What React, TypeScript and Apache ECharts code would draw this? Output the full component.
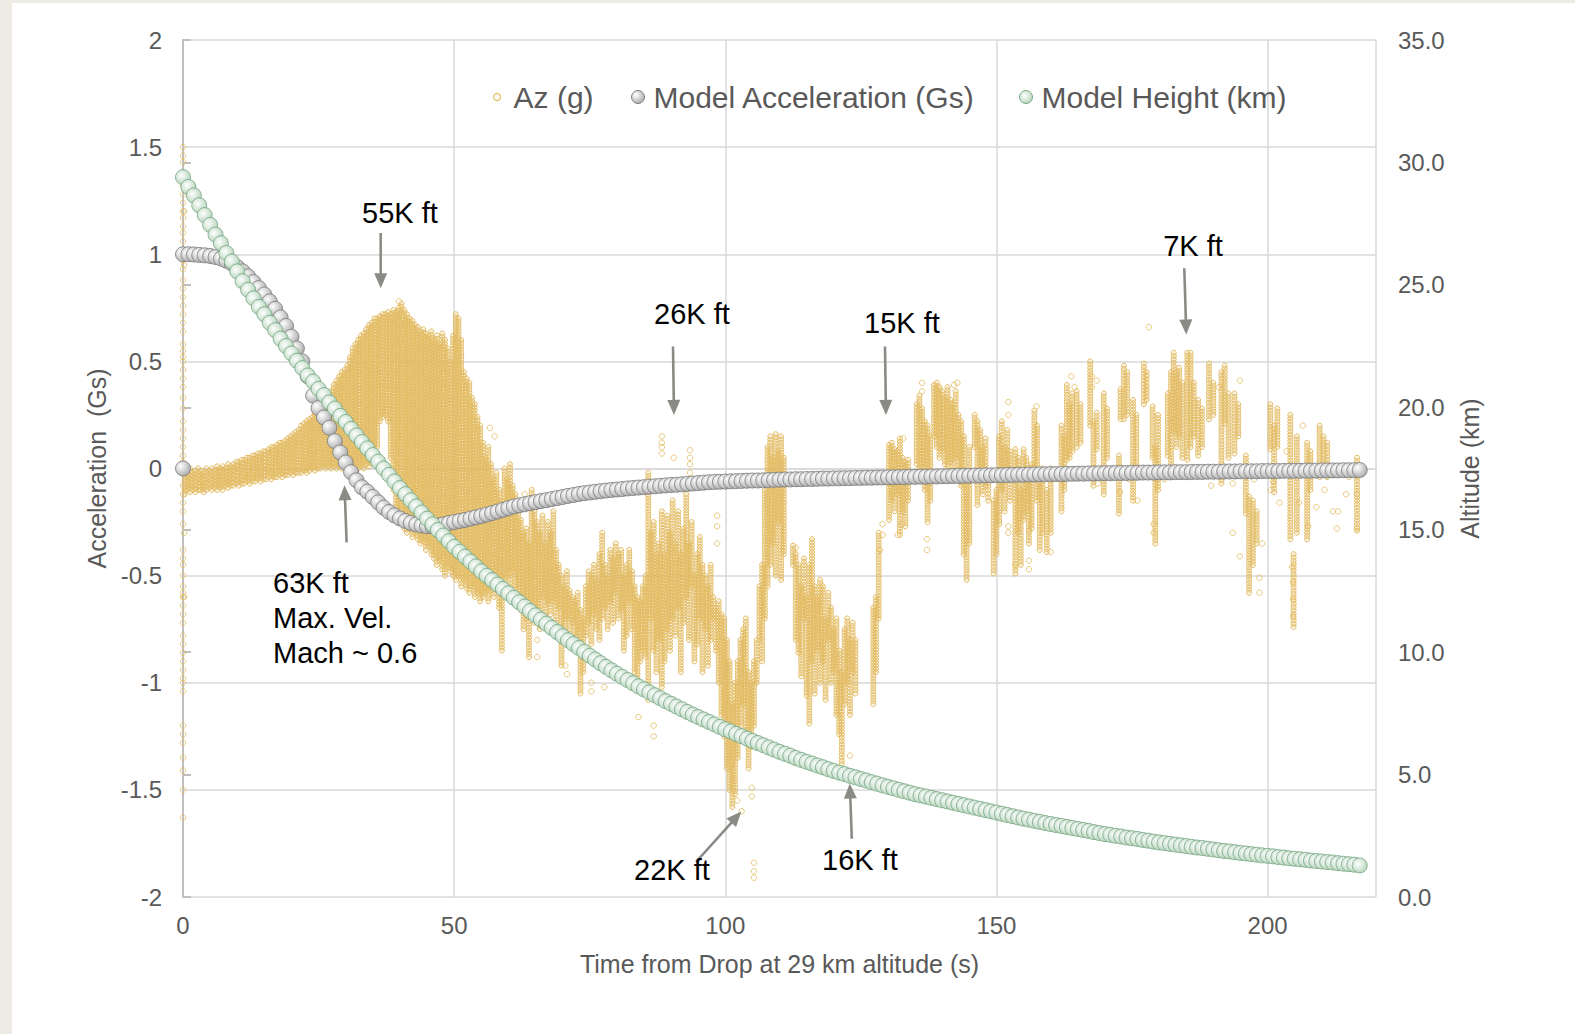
import React, { useEffect, useRef } from "react";
import * as echarts from "echarts";

const FONT = "'Liberation Sans', Arial, sans-serif";
const AZ_COLOR = "#E3BB5F";
const AZ_FILL = "rgba(232,194,106,0.14)";
const ARROW_COLOR = "#8A8B85";

// ---- axes ----
const timeMin = 0;
const timeMax = 220;
const timeInterval = 50;
const accelMin = -2;
const accelMax = 2;
const accelInterval = 0.5;
const altMin = 0;
const altMax = 35;
const altInterval = 5;

// ---- model acceleration (Gs), one value per second from t = 0 s ----
const modelAccelStart = [0, 0];
const modelAccel = [
  1.0, 1.0, 0.999, 0.997, 0.995, 0.992, 0.987, 0.98, 0.97, 0.957,
  0.94, 0.92, 0.897, 0.87, 0.842, 0.812, 0.78, 0.745, 0.705, 0.665,
  0.615, 0.56, 0.5, 0.43, 0.34, 0.282, 0.238, 0.19, 0.128, 0.075,
  0.028, -0.017, -0.055, -0.088, -0.108, -0.133, -0.158, -0.183, -0.203, -0.219,
  -0.233, -0.245, -0.254, -0.261, -0.266, -0.269, -0.269, -0.266, -0.261, -0.255,
  -0.25, -0.245, -0.24, -0.234, -0.228, -0.222, -0.215, -0.208, -0.201, -0.193,
  -0.185, -0.177, -0.172, -0.167, -0.162, -0.157, -0.152, -0.148, -0.143, -0.138,
  -0.133, -0.128, -0.124, -0.119, -0.115, -0.112, -0.109, -0.106, -0.103, -0.1,
  -0.098, -0.096, -0.093, -0.091, -0.089, -0.087, -0.085, -0.083, -0.081, -0.079,
  -0.077, -0.076, -0.074, -0.072, -0.07, -0.068, -0.066, -0.064, -0.063, -0.062,
  -0.061, -0.06, -0.059, -0.058, -0.057, -0.056, -0.056, -0.055, -0.054, -0.053,
  -0.052, -0.051, -0.051, -0.05, -0.05, -0.049, -0.049, -0.048, -0.047, -0.047,
  -0.046, -0.046, -0.045, -0.045, -0.044, -0.044, -0.043, -0.043, -0.042, -0.042,
  -0.041, -0.041, -0.04, -0.04, -0.039, -0.039, -0.038, -0.038, -0.037, -0.037,
  -0.036, -0.036, -0.035, -0.035, -0.034, -0.034, -0.033, -0.033, -0.032, -0.032,
  -0.031, -0.031, -0.03, -0.03, -0.029, -0.029, -0.028, -0.028, -0.027, -0.027,
  -0.026, -0.026, -0.026, -0.025, -0.025, -0.024, -0.024, -0.023, -0.023, -0.022,
  -0.022, -0.022, -0.021, -0.021, -0.021, -0.02, -0.02, -0.019, -0.019, -0.019,
  -0.018, -0.018, -0.018, -0.017, -0.017, -0.017, -0.016, -0.016, -0.016, -0.015,
  -0.015, -0.015, -0.014, -0.014, -0.014, -0.013, -0.013, -0.013, -0.013, -0.012,
  -0.012, -0.012, -0.012, -0.011, -0.011, -0.011, -0.011, -0.01, -0.01, -0.01,
  -0.009, -0.009, -0.009, -0.009, -0.008, -0.008, -0.008, -0.007,
];

// ---- model height (km), one value per second from t = 0 s ----
const modelHeight = [
  29.4, 29.0, 28.65, 28.25, 27.85, 27.45, 27.05, 26.7, 26.3, 25.95,
  25.55, 25.15, 24.8, 24.45, 24.1, 23.8, 23.45, 23.15, 22.8, 22.5,
  22.2, 21.9, 21.6, 21.3, 21.05, 20.75, 20.5, 20.2, 19.95, 19.65,
  19.4, 19.12, 18.85, 18.58, 18.32, 18.05, 17.78, 17.5, 17.24, 16.97,
  16.7, 16.45, 16.2, 15.95, 15.7, 15.45, 15.22, 14.99, 14.76, 14.53,
  14.3, 14.1, 13.9, 13.7, 13.5, 13.3, 13.12, 12.94, 12.76, 12.58,
  12.4, 12.22, 12.04, 11.86, 11.68, 11.5, 11.33, 11.16, 10.99, 10.82,
  10.65, 10.49, 10.33, 10.17, 10.01, 9.85, 9.7, 9.55, 9.4, 9.26,
  9.12, 8.99, 8.86, 8.73, 8.6, 8.48, 8.36, 8.24, 8.12, 8.0,
  7.89, 7.78, 7.67, 7.56, 7.45, 7.35, 7.25, 7.15, 7.05, 6.95,
  6.85, 6.76, 6.66, 6.57, 6.47, 6.38, 6.29, 6.2, 6.11, 6.02,
  5.93, 5.85, 5.77, 5.68, 5.6, 5.52, 5.45, 5.37, 5.3, 5.22,
  5.15, 5.08, 5.02, 4.95, 4.89, 4.82, 4.76, 4.69, 4.63, 4.56,
  4.5, 4.44, 4.38, 4.32, 4.26, 4.2, 4.15, 4.1, 4.05, 4.0,
  3.95, 3.9, 3.85, 3.8, 3.75, 3.7, 3.65, 3.6, 3.55, 3.5,
  3.45, 3.4, 3.35, 3.3, 3.25, 3.2, 3.16, 3.11, 3.07, 3.02,
  2.98, 2.94, 2.9, 2.86, 2.82, 2.78, 2.74, 2.7, 2.65, 2.61,
  2.57, 2.54, 2.5, 2.47, 2.43, 2.4, 2.37, 2.33, 2.3, 2.26,
  2.23, 2.2, 2.17, 2.14, 2.11, 2.08, 2.05, 2.02, 2.0, 1.97,
  1.94, 1.91, 1.88, 1.86, 1.83, 1.8, 1.78, 1.75, 1.73, 1.7,
  1.68, 1.66, 1.63, 1.61, 1.58, 1.56, 1.54, 1.52, 1.49, 1.47,
  1.45, 1.43, 1.41, 1.38, 1.36, 1.34, 1.32, 1.29,
];

// ---- Az (g) measured: sample columns [time s, lowest g, highest g] ----
const azColumns = [
  [0.3, -0.12, 0.02], [0.8, -0.1, -0.01], [1.3, -0.11, 0.0], [1.8, -0.1, -0.02], [2.3, -0.11, -0.01],
  [2.8, -0.1, 0.0], [3.3, -0.1, -0.01], [3.8, -0.11, -0.02], [4.3, -0.1, 0.0], [4.8, -0.09, -0.01],
  [5.3, -0.1, 0.0], [5.8, -0.09, -0.01], [6.3, -0.1, 0.01], [6.8, -0.09, 0.0], [7.3, -0.1, 0.01],
  [7.8, -0.08, 0.0], [8.3, -0.09, 0.02], [8.8, -0.08, 0.01], [9.3, -0.08, 0.02], [9.8, -0.07, 0.03],
  [10.3, -0.08, 0.03], [10.8, -0.07, 0.04], [11.3, -0.07, 0.04], [11.8, -0.06, 0.05], [12.3, -0.07, 0.05],
  [12.8, -0.06, 0.06], [13.3, -0.06, 0.06], [13.8, -0.05, 0.07], [14.3, -0.06, 0.07], [14.8, -0.05, 0.08],
  [15.3, -0.05, 0.08], [15.8, -0.04, 0.09], [16.3, -0.05, 0.1], [16.8, -0.04, 0.1], [17.3, -0.04, 0.11],
  [17.8, -0.03, 0.12], [18.3, -0.04, 0.12], [18.8, -0.03, 0.13], [19.3, -0.03, 0.14], [19.8, -0.02, 0.15],
  [20.3, -0.03, 0.16], [20.8, -0.02, 0.17], [21.3, -0.02, 0.18], [21.8, -0.02, 0.2], [22.3, -0.01, 0.21],
  [22.8, -0.02, 0.22], [23.3, -0.01, 0.23], [23.8, 0.0, 0.24], [24.3, -0.01, 0.26], [24.8, 0.0, 0.27],
  [25.3, 0.0, 0.28], [25.8, 0.01, 0.3], [26.3, 0.0, 0.31], [26.8, 0.01, 0.33], [27.3, 0.0, 0.36],
  [27.8, 0.01, 0.39], [28.3, 0.0, 0.41], [28.8, 0.01, 0.43], [29.3, 0.0, 0.45], [29.8, 0.01, 0.46],
  [30.3, 0.0, 0.48], [30.8, 0.01, 0.52], [31.3, 0.0, 0.56], [31.8, 0.01, 0.58], [32.3, 0.0, 0.6],
  [32.8, 0.01, 0.62], [33.3, 0.0, 0.63], [33.8, 0.02, 0.65], [34.3, 0.01, 0.67], [34.8, 0.03, 0.68],
  [35.3, 0.02, 0.7], [35.8, 0.1, 0.7], [36.3, 0.22, 0.71], [36.8, 0.24, 0.72], [37.3, 0.25, 0.72],
  [37.8, 0.22, 0.73], [38.3, 0.05, 0.72], [38.8, -0.1, 0.74], [39.3, -0.18, 0.73], [39.8, -0.22, 0.75],
  [40.3, -0.25, 0.77], [40.8, -0.28, 0.74], [41.3, -0.3, 0.72], [41.8, -0.28, 0.7], [42.3, -0.32, 0.69],
  [42.8, -0.3, 0.67], [43.3, -0.33, 0.66], [43.8, -0.35, 0.64], [44.3, -0.34, 0.65], [44.8, -0.38, 0.63],
  [45.3, -0.36, 0.62], [45.8, -0.4, 0.64], [46.3, -0.42, 0.6], [46.8, -0.45, 0.62], [47.3, -0.43, 0.58],
  [47.8, -0.47, 0.63], [48.3, -0.5, 0.6], [48.8, -0.46, 0.56], [49.3, -0.48, 0.5], [49.8, -0.5, 0.62],
  [50.3, -0.52, 0.72], [50.8, -0.5, 0.7], [51.3, -0.55, 0.6], [51.8, -0.52, 0.45], [52.3, -0.56, 0.42],
  [52.8, -0.58, 0.4], [53.3, -0.55, 0.33], [53.8, -0.6, 0.3], [54.3, -0.58, 0.24], [54.8, -0.62, 0.2],
  [55.3, -0.6, 0.12], [55.8, -0.58, 0.05], [56.3, -0.62, 0.1], [56.8, -0.57, 0.02], [57.3, -0.6, -0.05],
  [57.8, -0.55, -0.02], [58.3, -0.65, -0.1], [58.8, -0.85, -0.15],
  [59.3, -0.57, 0.0], [59.8, -0.5, -0.05], [60.3, -0.55, 0.02], [60.8, -0.48, -0.08], [61.3, -0.56, -0.12],
  [61.8, -0.6, -0.2], [62.3, -0.66, -0.24], [62.8, -0.75, -0.3], [63.3, -0.7, -0.28], [63.8, -0.88, -0.35],
  [64.3, -0.62, -0.1], [64.8, -0.72, -0.2], [65.3, -0.66, -0.25], [65.8, -0.75, -0.3], [66.3, -0.6, -0.22],
  [66.8, -0.7, -0.35], [67.3, -0.63, -0.25], [67.8, -0.68, -0.3], [68.3, -0.62, -0.2], [68.8, -0.72, -0.38],
  [69.3, -0.65, -0.45], [69.8, -0.92, -0.5], [70.3, -0.75, -0.55], [70.8, -0.7, -0.48], [71.3, -0.78, -0.57],
  [71.8, -0.72, -0.6], [72.3, -0.8, -0.62], [72.8, -0.78, -0.58], [73.3, -1.05, -0.66], [73.8, -0.95, -0.7],
  [74.3, -0.78, -0.55], [74.8, -0.72, -0.48], [75.3, -0.82, -0.5], [75.8, -0.68, -0.45], [76.3, -0.75, -0.52],
  [76.8, -0.8, -0.4], [77.3, -0.7, -0.3], [77.8, -0.65, -0.45], [78.3, -0.75, -0.5], [78.8, -0.62, -0.38],
  [79.3, -0.72, -0.42], [79.8, -0.58, -0.35], [80.3, -0.7, -0.4], [80.8, -0.66, -0.38], [81.3, -0.85, -0.5],
  [81.8, -0.78, -0.45], [82.3, -0.62, -0.38], [82.8, -0.75, -0.48], [83.3, -0.95, -0.55], [83.8, -1.02, -0.6],
  [84.3, -0.9, -0.62], [84.8, -0.85, -0.55], [85.3, -0.88, -0.5], [85.8, -1.08, -0.02], [86.3, -0.7, -0.3],
  [86.8, -0.85, -0.25], [87.3, -0.95, -0.4], [87.8, -0.8, -0.35], [88.3, -1.02, -0.2], [88.8, -0.9, -0.4],
  [89.3, -0.75, -0.22], [89.8, -0.85, -0.3], [90.3, -0.7, -0.15], [90.8, -0.78, -0.35], [91.3, -0.65, -0.2],
  [91.8, -0.95, -0.4], [92.3, -0.72, -0.28], [92.8, -0.6, -0.12], [93.3, -0.8, -0.35], [93.8, -0.55, -0.25],
  [94.3, -0.9, -0.5], [94.8, -0.82, -0.4], [95.3, -0.7, -0.32], [95.8, -0.95, -0.45], [96.3, -0.75, -0.5],
  [96.8, -0.92, -0.55], [97.3, -0.8, -0.45], [97.8, -0.7, -0.6], [98.3, -0.85, -0.65], [98.8, -1.0, -0.62],
  [99.3, -1.15, -0.68], [99.8, -1.25, -0.7], [100.3, -1.4, -0.8], [100.8, -1.5, -0.9], [101.3, -1.58, -1.1],
  [101.8, -1.52, -1.0], [102.3, -1.35, -0.9], [102.8, -1.2, -0.8], [103.3, -1.1, -0.75], [103.8, -1.25, -0.7],
  [104.3, -1.4, -0.95], [104.8, -1.3, -1.0], [105.3, -1.2, -0.9], [105.8, -1.0, -0.8], [106.3, -0.8, -0.55],
  [106.8, -0.9, -0.45], [107.3, -0.7, -0.1], [107.8, -0.55, 0.1], [108.3, -0.45, 0.15], [108.8, -0.35, 0.05],
  [109.3, -0.5, 0.16], [109.8, -0.25, 0.08], [110.3, -0.52, 0.15], [110.8, -0.4, 0.05],
  [112.5, -0.45, -0.36], [113.0, -0.8, -0.4], [113.5, -0.86, -0.45], [114.0, -0.97, -0.55], [114.5, -0.7, -0.42],
  [115.0, -1.06, -0.6], [115.5, -1.19, -0.45], [116.0, -0.9, -0.33], [116.5, -1.05, -0.55], [117.0, -0.85, -0.6],
  [117.5, -1.0, -0.52], [118.0, -0.9, -0.55], [118.5, -1.08, -0.7], [119.0, -0.8, -0.58], [119.5, -1.0, -0.65],
  [120.0, -0.95, -0.75], [120.5, -1.15, -0.7], [121.0, -1.24, -0.85], [121.5, -1.38, -0.95], [122.0, -1.1, -0.75],
  [122.5, -1.0, -0.7], [123.0, -1.15, -0.8], [123.5, -0.95, -0.72], [124.0, -1.05, -0.8],
  [127.3, -1.1, -0.65], [127.8, -0.95, -0.6], [128.3, -0.7, -0.3],
  [130.2, -0.24, 0.11], [130.7, -0.15, 0.12], [131.2, -0.2, 0.09], [131.7, -0.12, 0.08], [132.2, -0.31, 0.14],
  [132.7, -0.2, 0.05], [133.2, -0.27, 0.03], [133.7, -0.15, 0.04],
  [135.3, 0.02, 0.3], [135.8, -0.05, 0.34], [136.3, 0.01, 0.28], [136.8, -0.1, 0.22], [137.3, -0.25, 0.2],
  [137.8, -0.15, 0.15], [138.5, 0.15, 0.39], [139.0, 0.1, 0.4], [139.5, 0.05, 0.38], [140.0, 0.08, 0.36],
  [140.5, 0.02, 0.33], [141.0, -0.05, 0.38], [141.5, 0.03, 0.32], [142.0, -0.02, 0.3], [142.5, 0.05, 0.36],
  [143.0, 0.0, 0.25], [143.5, -0.08, 0.22], [144.0, -0.4, 0.15], [144.5, -0.52, -0.05], [145.0, -0.35, 0.1],
  [146.0, 0.1, 0.25], [146.5, -0.17, 0.22], [147.0, -0.05, 0.18], [147.5, -0.12, 0.1], [148.0, -0.08, 0.14],
  [148.5, -0.15, -0.02], [149.5, -0.49, -0.15], [150.0, -0.4, -0.1], [150.5, -0.26, 0.15], [151.0, -0.1, 0.22],
  [151.5, -0.2, 0.1], [152.0, -0.05, 0.18], [152.5, -0.15, 0.08], [153.5, -0.49, 0.09], [154.0, -0.3, 0.05],
  [154.5, -0.45, -0.1], [155.0, -0.24, 0.09], [155.5, -0.2, 0.05], [156.0, -0.35, -0.05], [156.5, -0.28, 0.02],
  [157.0, -0.05, 0.27], [157.5, -0.15, 0.2], [158.0, -0.38, -0.07], [158.5, -0.3, 0.0], [159.3, -0.39, -0.1],
  [160.0, -0.3, 0.0], [162.0, -0.2, 0.2], [162.5, -0.1, 0.15], [163.0, 0.04, 0.39], [163.5, 0.05, 0.3],
  [164.0, 0.08, 0.35], [164.8, 0.1, 0.36], [165.5, 0.12, 0.3], [167.3, 0.2, 0.5], [167.9, -0.08, 0.22],
  [168.5, 0.09, 0.26], [169.8, -0.12, 0.35], [170.4, 0.05, 0.28], [172.6, -0.21, 0.06], [172.9, 0.23, 0.37],
  [173.5, 0.23, 0.48], [174.1, 0.25, 0.45], [175.2, -0.15, 0.32], [175.8, 0.0, 0.25], [177.2, 0.3, 0.49],
  [177.7, 0.32, 0.45], [178.8, 0.05, 0.29], [179.3, -0.35, 0.1], [179.8, -0.1, 0.25], [181.6, 0.06, 0.35],
  [182.2, -0.04, 0.45], [182.7, 0.17, 0.54], [183.2, 0.1, 0.45], [183.7, 0.15, 0.47], [184.3, 0.05, 0.4],
  [185.2, 0.04, 0.54], [185.8, 0.1, 0.54], [186.4, 0.15, 0.4], [187.2, 0.06, 0.32], [187.9, 0.1, 0.28],
  [189.2, 0.23, 0.49], [190.0, 0.25, 0.4], [191.5, -0.07, 0.45], [192.1, 0.21, 0.48], [192.8, 0.05, 0.35],
  [193.9, 0.07, 0.35], [194.6, 0.15, 0.3], [196.0, -0.21, 0.06], [196.6, -0.58, -0.13], [197.3, -0.45, -0.15],
  [198.0, -0.35, -0.2], [200.5, 0.09, 0.3], [201.2, -0.11, 0.2], [201.8, 0.1, 0.28], [204.2, -0.33, 0.25],
  [204.8, -0.74, -0.4], [205.4, -0.3, 0.15], [207.3, -0.33, 0.12], [207.9, -0.1, 0.08], [209.6, -0.04, 0.2],
  [210.3, 0.0, 0.15], [211.0, -0.04, 0.12], [216.5, -0.29, 0.05],
];

// ---- Az (g) measured: single samples [time s, g] ----
const azSingles = [
  [0, 1.5], [0, 1.46], [0, 1.43], [0, 1.36], [0, 1.32], [0, 1.28], [0, 1.24], [0, 1.2], [0, 1.17], [0, 1.13],
  [0, 1.1], [0, 1.06], [0, 1.02], [0, 0.97], [0, 0.93], [0, 0.88], [0, 0.84], [0, 0.8], [0, 0.76], [0, 0.72],
  [0, 0.68], [0, 0.64], [0, 0.58], [0, 0.55], [0, 0.52], [0, 0.5], [0, 0.46], [0, 0.42], [0, 0.38], [0, 0.33],
  [0, 0.28], [0, 0.22], [0, 0.18], [0, 0.14], [0, 0.1], [0, 0.06], [0, 0.03], [0, -0.08], [0, -0.12], [0, -0.16],
  [0, -0.2], [0, -0.26], [0, -0.38], [0, -0.42], [0, -0.45], [0, -0.5], [0, -0.55], [0, -0.58], [0, -0.6], [0, -0.64],
  [0, -0.68], [0, -0.72], [0, -0.78], [0, -0.82], [0, -0.86], [0, -0.9], [0, -0.94], [0, -0.98], [0, -1.0], [0, -1.04],
  [0, -1.2], [0, -1.24], [0, -1.28], [0, -1.35], [0, -1.41], [0, -1.5], [0, -1.63],
  [0.2, 1.2], [0.2, 0.95], [0.2, -0.3], [0.2, -0.6],
  [39.8, 0.78], [56.6, 0.19], [57.5, 0.15], [63.0, -0.12], [65.3, -0.88], [65.3, -0.8], [70.5, -0.92], [70.8, -0.96],
  [75.3, -1.0], [75.3, -1.04], [77.7, -1.02], [84.0, -1.16], [86.8, -1.2], [86.8, -1.25],
  [88.3, 0.15], [88.3, 0.12], [88.3, 0.1], [88.3, 0.07], [90.5, 0.05], [93.5, 0.085], [93.5, 0.05], [93.5, 0.02], [93.5, -0.02],
  [98.5, -0.22], [98.5, -0.27], [98.5, -0.35], [102.2, -1.55], [103.0, -1.6], [104.9, -1.49], [104.9, -1.53],
  [105.3, -1.84], [105.3, -1.88], [105.3, -1.91],
  [113.0, -0.37], [121.5, -1.42], [123.0, -1.34], [129.0, -0.31], [129.0, -0.26], [128.5, -0.38],
  [136.3, 0.4], [136.3, 0.36], [137.2, -0.33], [137.2, -0.38], [132.6, -0.26], [131.8, -0.31], [142.8, 0.4],
  [142.2, 0.39], [132.8, 0.14], [152.2, 0.31], [152.2, 0.25], [152.2, -0.27], [152.2, -0.3], [153.5, -0.45],
  [156.0, -0.29], [156.0, -0.43], [156.0, -0.47], [157.4, 0.29], [160.0, -0.39], [163.8, 0.43],
  [178.1, 0.66], [198.5, -0.51], [198.5, -0.58], [194.9, -0.41], [193.6, -0.3], [212.8, -0.28], [216.5, -0.28],
  [216.5, -0.12], [214.5, -0.12], [212.1, -0.2], [213.0, -0.2], [204.7, -0.69], [204.7, -0.61],
  [204.5, -0.46], [204.7, -0.53], [202.2, -0.16], [207.5, -0.27], [209.0, -0.18], [205.8, -0.16],
  [200.6, -0.1], [201.0, -0.06], [189.6, -0.08], [193.6, -0.07], [191.0, 0.38], [194.9, 0.41], [167.6, 0.43],
  [167.6, 0.38], [168.5, 0.41], [164.4, 0.38], [168.7, -0.07], [172.8, 0.0], [172.8, -0.11], [176.0, -0.15],
  [179.0, -0.3], [179.0, -0.26], [186.0, -0.04], [181.0, -0.05], [171.5, -0.02], [174.5, -0.05], [210.5, -0.1],
  [215.0, -0.04], [199.0, -0.35], [197.5, -0.05], [203.5, 0.08], [206.5, 0.2],
];

// ---- annotations (pixel layout) ----
const labels = [
  { text: "55K ft", x: 400, y: 213 },
  { text: "26K ft", x: 692, y: 314 },
  { text: "15K ft", x: 902, y: 323 },
  { text: "7K ft", x: 1193, y: 246 },
  { text: "22K ft", x: 672, y: 870 },
  { text: "16K ft", x: 860, y: 860 },
];
const blockLabel = { text: "63K ft\nMax. Vel.\nMach ~ 0.6", x: 273, y: 565 };
const arrows = [
  [380.7, 233, 380.7, 288.3],
  [673, 346.6, 674, 414.9],
  [885, 346.6, 886, 414.9],
  [1184.3, 268.2, 1186.3, 334.5],
  [346.6, 542.4, 344.5, 485.2],
  [696, 862, 741.3, 811.6],
  [851.8, 838.8, 849.8, 783.5],
];

function arrowShapes(a: number[]) {
  const [x1, y1, x2, y2] = a;
  const dx = x2 - x1;
  const dy = y2 - y1;
  const L = Math.hypot(dx, dy);
  const ux = dx / L;
  const uy = dy / L;
  const head = 15;
  const half = 6.5;
  const bx = x2 - ux * head;
  const by = y2 - uy * head;
  return [
    { type: "line", z: 100, shape: { x1, y1, x2: bx + ux * 2, y2: by + uy * 2 }, style: { stroke: ARROW_COLOR, lineWidth: 2.6 } },
    {
      type: "polygon",
      z: 100,
      shape: { points: [[x2, y2], [bx - uy * half, by + ux * half], [bx + uy * half, by - ux * half]] },
      style: { fill: ARROW_COLOR },
    },
  ];
}

export default function App() {
  const ref = useRef<HTMLDivElement>(null);

  useEffect(() => {
    if (!ref.current) return;
    const chart = echarts.init(ref.current, undefined, { renderer: "svg" });

    const grayFill = new echarts.graphic.RadialGradient(0.35, 0.35, 0.75, [
      { offset: 0, color: "#FFFFFF" },
      { offset: 1, color: "#A4A4A4" },
    ]);
    const greenFill = new echarts.graphic.RadialGradient(0.4, 0.4, 0.7, [
      { offset: 0, color: "#FFFFFF" },
      { offset: 1, color: "#AED0B5" },
    ]);

    const accelData = [modelAccelStart, ...modelAccel.map((v, i) => [i, v])];
    const heightData = modelHeight.map((v, i) => [i, v]);

    const labelText = { color: "#595959", fontSize: 24, fontFamily: FONT };
    const legendBase = {
      top: 80,
      padding: 0,
      selectedMode: false,
      itemGap: 0,
      textStyle: { color: "#595959", fontSize: 30, fontFamily: FONT, lineHeight: 34 },
    };

    const graphics: any[] = [
      { type: "rect", z: 100, shape: { x: 0, y: 0, width: 12, height: 1034 }, style: { fill: "#EEEBE4" } },
      { type: "rect", z: 100, shape: { x: 0, y: 0, width: 1575, height: 3 }, style: { fill: "#EEEBE4" } },
    ];
    arrows.forEach((a) => graphics.push(...arrowShapes(a)));
    labels.forEach((l) =>
      graphics.push({
        type: "text",
        z: 101,
        x: l.x,
        y: l.y,
        style: { text: l.text, fill: "#000000", fontSize: 29, fontFamily: FONT, align: "center", verticalAlign: "middle" },
      })
    );
    graphics.push({
      type: "text",
      z: 101,
      x: blockLabel.x,
      y: blockLabel.y,
      style: {
        text: blockLabel.text,
        fill: "#000000",
        fontSize: 29,
        lineHeight: 35,
        fontFamily: FONT,
        align: "left",
        verticalAlign: "top",
      },
    });

    chart.setOption({
      animation: false,
      backgroundColor: "#FFFFFF",
      textStyle: { fontFamily: FONT },
      grid: { left: 183, right: 199, top: 40, bottom: 137, containLabel: false },
      legend: [
        {
          ...legendBase,
          left: 493,
          itemWidth: 7,
          itemHeight: 7,
          data: [
            {
              name: "Az (g)",
              icon: "circle",
              itemStyle: { color: "#FFFFFF", borderColor: AZ_COLOR, borderWidth: 1.2 },
              textStyle: { padding: [0, 0, 0, 8] },
            },
          ],
        },
        {
          ...legendBase,
          left: 631,
          itemWidth: 13,
          itemHeight: 13,
          data: [
            {
              name: "Model Acceleration (Gs)",
              icon: "circle",
              itemStyle: { color: grayFill, borderColor: "#7F7F7F", borderWidth: 1 },
              textStyle: { padding: [0, 0, 0, 4] },
            },
          ],
        },
        {
          ...legendBase,
          left: 1019,
          itemWidth: 13,
          itemHeight: 13,
          data: [
            {
              name: "Model Height (km)",
              icon: "circle",
              itemStyle: { color: greenFill, borderColor: "#78A983", borderWidth: 1 },
              textStyle: { padding: [0, 0, 0, 4] },
            },
          ],
        },
      ],
      xAxis: {
        type: "value",
        min: timeMin,
        max: timeMax,
        interval: timeInterval,
        name: "Time from Drop at 29 km altitude (s)",
        nameLocation: "middle",
        nameGap: 54,
        nameTextStyle: { color: "#595959", fontSize: 25, fontFamily: FONT },
        axisLine: { show: true, lineStyle: { color: "#D9D9D9", width: 1.5 } },
        axisTick: { show: false },
        axisLabel: { ...labelText, margin: 16, showMaxLabel: false },
        splitLine: { show: true, lineStyle: { color: "#D9D9D9", width: 1.5 } },
      },
      yAxis: [
        {
          type: "value",
          min: accelMin,
          max: accelMax,
          interval: accelInterval,
          name: "Acceleration  (Gs)",
          nameLocation: "middle",
          nameGap: 71,
          nameTextStyle: { color: "#595959", fontSize: 25, fontFamily: FONT },
          axisLine: { show: true, onZero: false, lineStyle: { color: "#D9D9D9", width: 1.5 } },
          axisTick: { show: false },
          axisLabel: { ...labelText, margin: 21 },
          splitLine: { show: true, lineStyle: { color: "#D9D9D9", width: 1.5 } },
        },
        {
          type: "value",
          position: "right",
          min: altMin,
          max: altMax,
          interval: altInterval,
          name: "Altitude (km)",
          nameLocation: "middle",
          nameGap: 81,
          nameTextStyle: { color: "#595959", fontSize: 25, fontFamily: FONT },
          axisLine: { show: true, lineStyle: { color: "#BFBFBF", width: 2 } },
          axisTick: { show: true, inside: false, length: 8, lineStyle: { color: "#BFBFBF", width: 2 } },
          axisLabel: { ...labelText, margin: 22, formatter: (v: number) => v.toFixed(1) },
          splitLine: { show: false },
        },
      ],
      series: [
        {
          type: "custom",
          name: "Az (g)",
          xAxisIndex: 0,
          yAxisIndex: 0,
          z: 2,
          silent: true,
          data: azColumns,
          encode: { x: 0, y: [1, 2] },
          renderItem: (params: any, api: any) => {
            const t = api.value(0);
            const top = api.coord([t, api.value(2)]);
            const bot = api.coord([t, api.value(1)]);
            const len = bot[1] - top[1];
            const n = Math.max(1, Math.floor(len / 3.2) + 1);
            const children: any[] = [];
            for (let i = 0; i < n; i++) {
              const cy = n === 1 ? top[1] : top[1] + (len * i) / (n - 1);
              children.push({
                type: "circle",
                shape: { cx: top[0], cy, r: 2.5 },
                style: { fill: AZ_FILL, stroke: AZ_COLOR, lineWidth: 1 },
              });
            }
            return { type: "group", children };
          },
        },
        {
          type: "scatter",
          name: "Az (g)",
          xAxisIndex: 0,
          yAxisIndex: 0,
          z: 2,
          silent: true,
          symbol: "circle",
          symbolSize: 5.5,
          itemStyle: { color: "rgba(255,255,255,0)", borderColor: AZ_COLOR, borderWidth: 1 },
          data: azSingles,
        },
        {
          type: "scatter",
          name: "Model Acceleration (Gs)",
          xAxisIndex: 0,
          yAxisIndex: 0,
          z: 3,
          silent: true,
          symbol: "circle",
          symbolSize: 15,
          itemStyle: { color: grayFill, borderColor: "#7A7A7A", borderWidth: 0.8, opacity: 1 },
          data: accelData,
        },
        {
          type: "scatter",
          name: "Model Height (km)",
          xAxisIndex: 0,
          yAxisIndex: 1,
          z: 4,
          silent: true,
          symbol: "circle",
          symbolSize: 15,
          itemStyle: { color: greenFill, borderColor: "#74A57F", borderWidth: 0.8, opacity: 1 },
          data: heightData,
        },
      ],
      graphic: graphics,
    });

    return () => chart.dispose();
  }, []);

  return (
    <div
      ref={ref}
      style={{ position: "fixed", left: 0, top: 0, width: 1575, height: 1034 }}
    />
  );
}
